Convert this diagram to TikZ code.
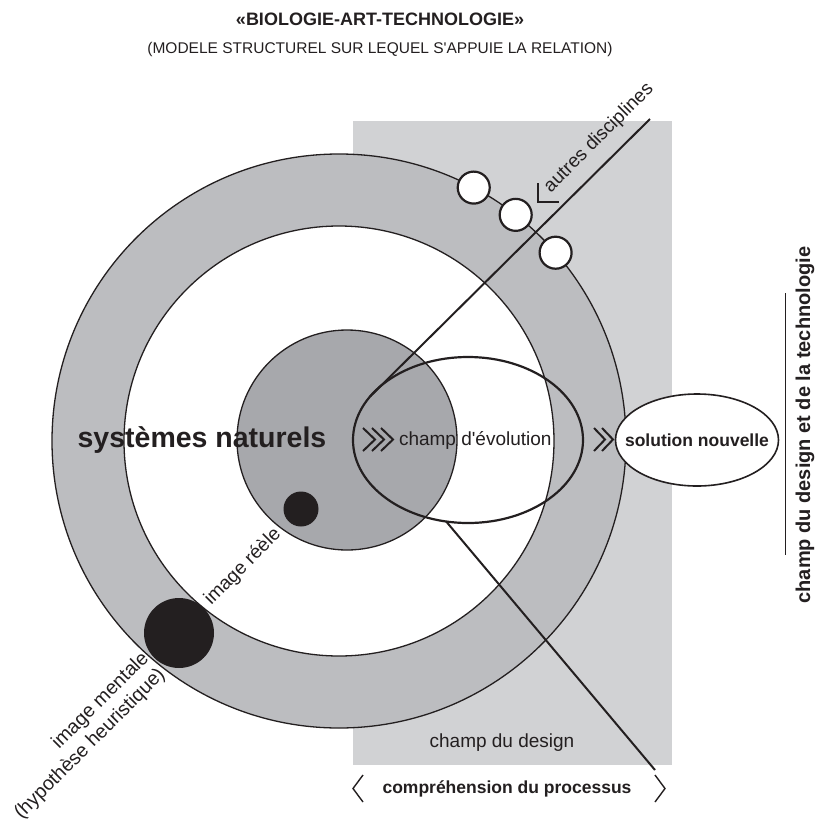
\documentclass[tikz,border=0pt]{standalone}
\usepackage{fontspec}
\setmainfont{Liberation Sans}[Ligatures=TeXOff]
\usetikzlibrary{shapes.geometric}
\usetikzlibrary{positioning}

\definecolor{ink}{HTML}{231F20}
\definecolor{fieldgray}{HTML}{D1D2D4}
\definecolor{ringgray}{HTML}{BCBDC0}
\definecolor{coregray}{HTML}{A7A8AC}

\begin{document}
\begin{tikzpicture}
	[x=1pt,y=-1pt,every node/.style={inner sep=0,outer sep=0,text=ink},
	disk/.style={circle,draw=ink,line width=1.3},
	lbl/.style={font=\fontsize{19}{22}\selectfont},
	lblb/.style={font=\fontsize{17.5}{20}\selectfont\bfseries},
	chev/.style={draw=ink,line width=2},
	tick/.style={draw=ink,line width=1.4}]
	\useasboundingbox (0,0) rectangle (823,820);
	% champ du design
	\fill[fieldgray] (353,121) rectangle (672,765);
	% cercles
	\node[disk,fill=ringgray,minimum size=574] (outer) at (339,441) {};
	\node[disk,fill=white,minimum size=430] (inner) at (339,441) {};
	\node[disk,fill=coregray,minimum size=220] (core) at (347,440) {};
	\node[circle,fill=ink,minimum size=35] (real) at (301,509) {};
	\node[circle,fill=ink,minimum size=70] (mental) at (179,633) {};
	\foreach \n/\a in {h1/62, h2/52, h3/41.5}
		\node[disk,fill=white,line width=2.2,minimum size=32] (\n) at (outer.\a) {};
	\node[ellipse,draw=ink,line width=2.2,minimum width=230,minimum height=166] (evol) at (468,440) {};
	\node[ellipse,draw=ink,fill=white,line width=1.6,minimum width=163,minimum height=92] (sol) at (697,440) {};
	% lignes
	\coordinate (disc) at (650,119);
	\coordinate (procend) at (655,770);
	\draw[ink,line width=2] (evol.156) -- (disc);
	\draw[ink,line width=2] (evol.255) -- (procend);
	\draw[tick] (538,183) -- (538,202) -- (559,202);
	\foreach \cx in {363,372,381}
		\draw[chev] (\cx,428) -- ++(12,11.5) -- ++(-12,11.5);
	\foreach \cx in {594,602}
		\draw[chev] (\cx,428) -- ++(11,11.5) -- ++(-11,11.5);
	\draw[tick] (363,775) -- (353,788.5) -- (363,802);
	\draw[tick] (655,775) -- (665,788.5) -- (655,802);
	% textes
	\node[font=\fontsize{18}{22}\selectfont\bfseries,anchor=base] (title) at (380,25) {«BIOLOGIE-ART-TECHNOLOGIE»};
	\node[font=\fontsize{15.5}{18}\selectfont,anchor=base] (sub) at (380,53) {(MODELE STRUCTUREL SUR LEQUEL S'APPUIE LA RELATION)};
	\node[font=\fontsize{28.5}{32}\selectfont\bfseries,anchor=base] (nat) at (202,447) {systèmes naturels};
	\node[lbl,anchor=base west] (evoltxt) at (399,445) {champ d'évolution};
	\node[lblb] (soltxt) at (sol.center) {solution nouvelle};
	\node[lbl,rotate=45] (autres) at (599,138) {autres disciplines};
	\node[lbl,rotate=45] (reele) at (243,567) {image réèle};
	\node[lbl,rotate=45,align=right,font=\fontsize{19.5}{23}\selectfont] (ment) at (82,736) {image mentale\\(hypothèse heuristique)};
	\node[lbl] (design) at (502,743) {champ du design};
	\node[lblb] (proc) at (507,789) {compréhension du processus};
	\node[font=\fontsize{20}{24}\selectfont\bfseries,rotate=90] (side) at (805,425) {champ du design et de la technologie};
	\draw[ink,line width=1] (785,293) -- (785,555);
\end{tikzpicture}
\end{document}
